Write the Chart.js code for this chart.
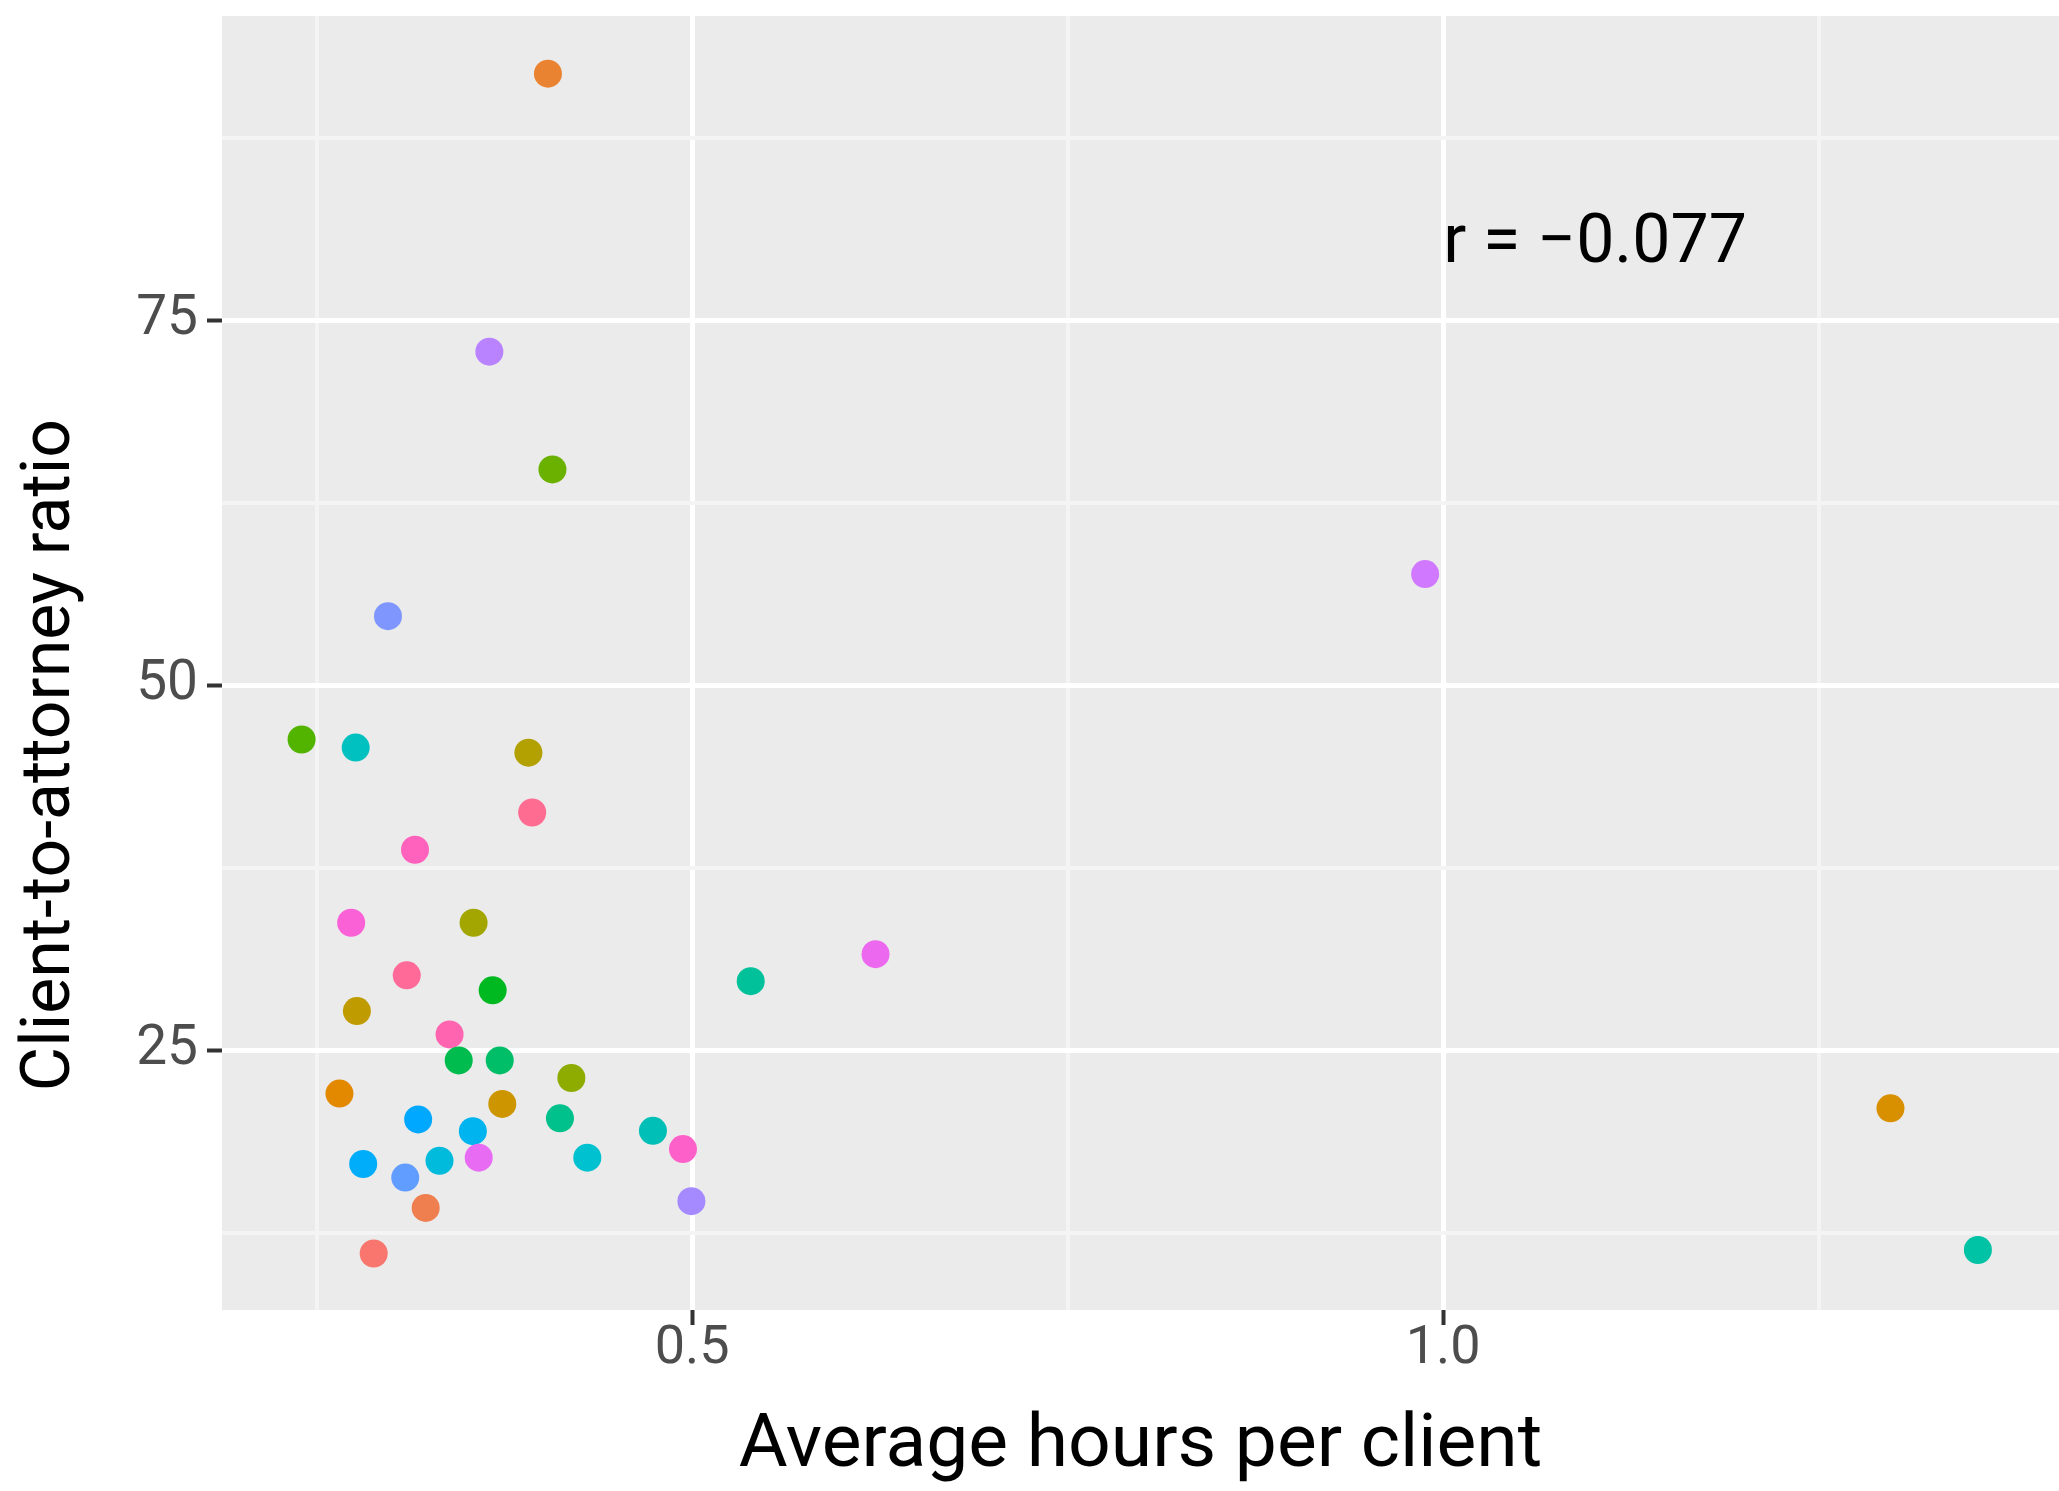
<!DOCTYPE html>
<html>
<head>
<meta charset="utf-8">
<script src="https://cdn.jsdelivr.net/npm/chart.js@4"></script>
<style>
  html, body { margin: 0; padding: 0; background: #ffffff; }
  #wrap { width: 2059px; height: 1491px; }
</style>
</head>
<body>
<div id="wrap"><canvas id="scatterChart"></canvas></div>
<script>
// values
const hours = [0.404, 0.365, 0.407, 0.2975, 0.240, 0.276, 0.391, 0.3935, 0.3155, 0.273,
               0.3545, 0.310, 0.3672, 0.2768, 0.3385, 0.3446, 0.3719, 0.4196, 0.2652, 0.3736,
               0.3176, 0.412, 0.354, 0.4739, 0.281, 0.3318, 0.3579, 0.4302, 0.4939, 0.309,
               0.3226, 0.4995, 0.288, 0.539, 0.6221, 0.988, 1.2978, 1.356];
const ratio = [91.9, 72.86, 64.8, 54.75, 46.3, 45.75, 45.4, 41.3, 38.75, 33.75,
               33.75, 30.15, 29.12, 27.7, 26.1, 24.32, 24.32, 23.12, 22.05, 21.34,
               20.28, 20.36, 19.48, 19.5, 17.23, 17.45, 17.66, 17.66, 18.25, 16.3,
               14.22, 14.68, 11.1, 29.75, 31.6, 57.63, 21.04, 11.34];
const pointColors = ['#EA8331', '#B983FF', '#6BB100', '#7F96FF', '#53B400', '#00C0C0', '#B2A100', '#FF6C91', '#FF62BC', '#FB61D7',
                     '#A3A500', '#FF6A98', '#00B81F', '#C09B00', '#FF64B0', '#00BB4E', '#00BE67', '#8EAB00', '#E38900', '#CD9600',
                     '#00A9FF', '#00C08B', '#00B4EF', '#00BFB6', '#00ADFA', '#00BBDB', '#E76BF3', '#00C1D0', '#FD61C9', '#619CFF',
                     '#EF7F4F', '#A58AFF', '#F8766D', '#00C19A', '#EC69EF', '#D078FF', '#D89000', '#00C2A4'];

const xTicks = [0.25, 0.5, 0.75, 1.0, 1.25];
const xMajor = [0.5, 1.0];
const yTicks = [12.5, 25, 37.5, 50, 62.5, 75, 87.5];
const yMajor = [25, 50, 75];
const corrLabel = 'r = \u22120.077';
const yTitle = 'Client-to-attorney ratio';

Chart.defaults.font.family = 'Roboto';

const panelBg = {
    id: 'panelBg',
    beforeDraw(chart) {
        const { ctx, chartArea: a } = chart;
        ctx.save();
        ctx.fillStyle = '#EBEBEB';
        ctx.fillRect(a.left, a.top, a.right - a.left, a.bottom - a.top);
        ctx.restore();
    }
};

// r annotation and the y title (sits a bit below the panel centre in the original)
const extraText = {
    id: 'extraText',
    afterDatasetsDraw(chart) {
        const { ctx, scales } = chart;
        ctx.save();
        ctx.fillStyle = '#000000';
        ctx.font = '68px Roboto';
        ctx.textAlign = 'left';
        ctx.textBaseline = 'alphabetic';
        ctx.fillText(corrLabel, scales.x.getPixelForValue(1.0), scales.y.getPixelForValue(79.0));

        ctx.translate(52, 755);
        ctx.rotate(-Math.PI / 2);
        ctx.textAlign = 'center';
        ctx.textBaseline = 'middle';
        ctx.fillText(yTitle, 0, 0);
        ctx.restore();
    }
};

const isMajor = (list, v) => list.some(m => Math.abs(m - v) < 1e-9);
const noPad = s => { s.paddingTop = 0; s.paddingBottom = 0; s.paddingLeft = 0; s.paddingRight = 0; };

new Chart(document.getElementById('scatterChart'), {
    type: 'scatter',
    data: {
        datasets: [{
            data: hours.map((h, i) => ({ x: h, y: ratio[i] })),
            backgroundColor: pointColors,
            borderWidth: 0,
            pointRadius: 14,
            pointHoverRadius: 14
        }]
    },
    options: {
        responsive: true,
        maintainAspectRatio: false,
        animation: false,
        layout: { autoPadding: false, padding: { top: 16, right: 0, left: 0, bottom: 0 } },
        scales: {
            x: {
                type: 'linear',
                min: 0.187,
                max: 1.41,
                afterBuildTicks: s => { s.ticks = xTicks.map(v => ({ value: v })); },
                afterFit: s => { s.height = 181; noPad(s); },
                border: { display: false },
                grid: {
                    color: c => isMajor(xMajor, c.tick.value) ? '#FFFFFF' : '#F4F4F4',
                    lineWidth: c => isMajor(xMajor, c.tick.value) ? 5 : 4,
                    tickColor: c => isMajor(xMajor, c.tick.value) ? '#333333' : 'rgba(0,0,0,0)',
                    tickLength: 15,
                    tickWidth: 4
                },
                ticks: {
                    autoSkip: false,
                    maxRotation: 0,
                    padding: -8,
                    color: '#4D4D4D',
                    font: { size: 54 },
                    callback: v => isMajor(xMajor, v) ? v.toFixed(1) : ''
                },
                title: {
                    display: true,
                    text: 'Average hours per client',
                    color: '#000000',
                    font: { size: 75, lineHeight: 1 },
                    padding: { top: 0, bottom: 6 }
                }
            },
            y: {
                type: 'linear',
                min: 7.23,
                max: 95.85,
                afterBuildTicks: s => { s.ticks = yTicks.map(v => ({ value: v })); },
                afterFit: s => { s.width = 222; noPad(s); },
                border: { display: false },
                grid: {
                    color: c => isMajor(yMajor, c.tick.value) ? '#FFFFFF' : '#F4F4F4',
                    lineWidth: c => isMajor(yMajor, c.tick.value) ? 5 : 4,
                    tickColor: c => isMajor(yMajor, c.tick.value) ? '#333333' : 'rgba(0,0,0,0)',
                    tickLength: 15,
                    tickWidth: 4
                },
                ticks: {
                    autoSkip: false,
                    padding: 9,
                    color: '#4D4D4D',
                    font: { size: 55 },
                    callback: v => isMajor(yMajor, v) ? String(v) : ''
                },
                title: { display: false }
            }
        },
        plugins: {
            legend: { display: false },
            tooltip: { enabled: false }
        }
    },
    plugins: [panelBg, extraText]
});
</script>
</body>
</html>
